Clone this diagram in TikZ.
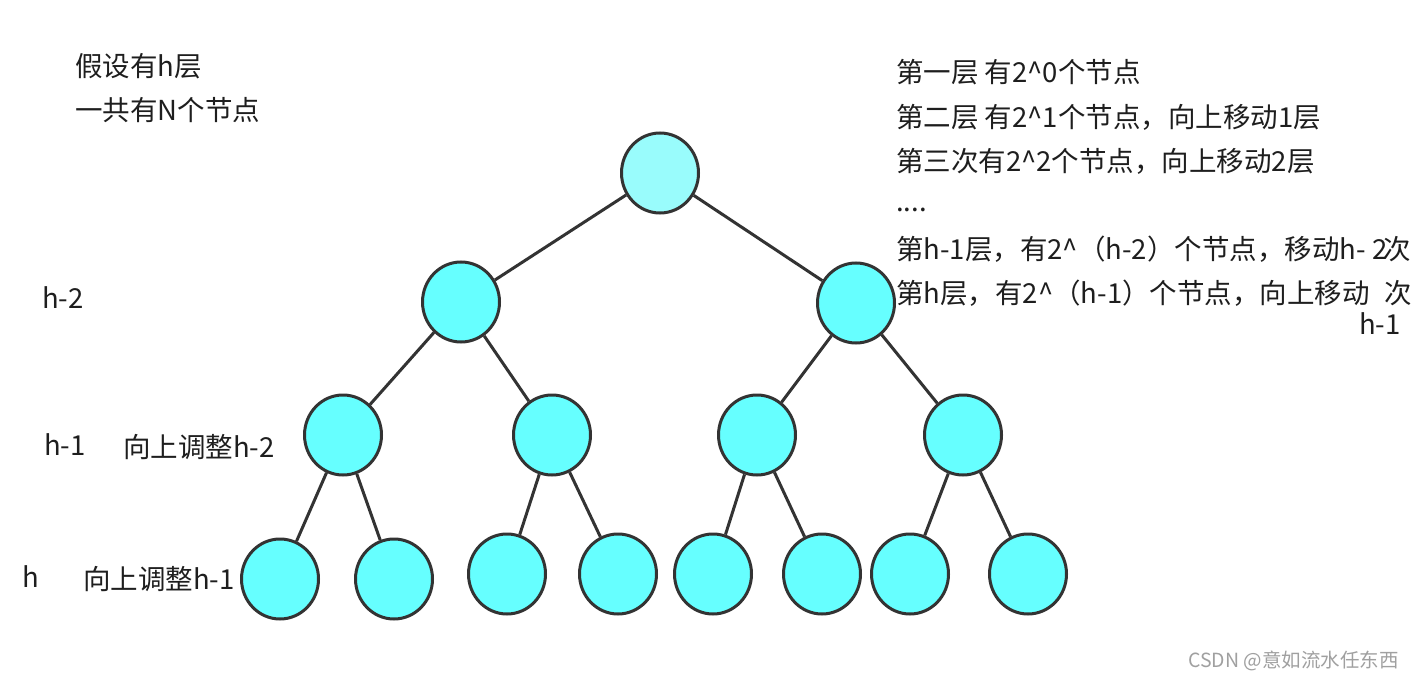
\documentclass[tikz,border=0pt]{standalone}
\usepackage{fontspec}
\setmainfont{Noto Sans CJK SC}
\usetikzlibrary{shapes.geometric}
\definecolor{nodefill}{HTML}{66FFFF}
\definecolor{rootfill}{HTML}{99FCFC}
\definecolor{edgecol}{HTML}{333333}
\definecolor{txtcol}{HTML}{1E1E1E}
\definecolor{wmcol}{HTML}{A0A0A0}
\tikzset{
  treenode/.style={ellipse, draw=edgecol, line width=3pt, fill=nodefill,
    minimum width=77pt, minimum height=80pt, inner sep=0},
  rootnode/.style={treenode, fill=rootfill},
  edge/.style={draw=edgecol, line width=3pt},
  txt/.style={anchor=west, inner sep=0, text=txtcol, font=\fontsize{27.5}{32}\selectfont},
  wm/.style={anchor=west, inner sep=0, text=wmcol, font=\fontsize{19.5}{22}\selectfont}
}
\begin{document}
\begin{tikzpicture}[x=1pt,y=-1pt]
\useasboundingbox (0,0) rectangle (1414,682);
\fill[white] (0,0) rectangle (1414,682);
% nodes
\node[rootnode] (r) at (660,173) {};
\node[treenode] (a) at (461,302) {};
\node[treenode] (b) at (856,303) {};
\node[treenode] (a1) at (343,435) {};
\node[treenode] (a2) at (552,435) {};
\node[treenode] (b1) at (757,435) {};
\node[treenode] (b2) at (963,435) {};
\node[treenode] (l1) at (280,579) {};
\node[treenode] (l2) at (394,579) {};
\node[treenode] (l3) at (507,574) {};
\node[treenode] (l4) at (618,574) {};
\node[treenode] (l5) at (713,574) {};
\node[treenode] (l6) at (822,574) {};
\node[treenode] (l7) at (910,574) {};
\node[treenode] (l8) at (1028,574) {};
% edges
\foreach \p/\c in {r/a, r/b, a/a1, a/a2, b/b1, b/b2, a1/l1, a1/l2, a2/l3, a2/l4, b1/l5, b1/l6, b2/l7, b2/l8}
  \draw[edge] (\p) -- (\c);
% left texts
\node[txt] (t1) at (75,66) {假设有h层};
\node[txt] (t2) at (75,110) {一共有N个节点};
\node[txt] (h2) at (42,298) {h-2};
\node[txt] (h1) at (44,445) {h-1};
\node[txt] (u2) at (123,447) {向上调整h-2};
\node[txt] (h0) at (22,577) {h};
\node[txt] (u1) at (83,579) {向上调整h-1};
% right texts
\node[txt] (s1) at (896,72) {第一层 有2\^{}0个节点};
\node[txt] (s2) at (896,117) {第二层 有2\^{}1个节点，向上移动1层};
\node[txt] (s3) at (896,161) {第三次有2\^{}2个节点，向上移动2层};
\node[txt] (s4) at (896,210) {....};
\node[txt] (s5) at (896,249) {第h-1层，有2\^{}（h-2）个节点，移动h- 2\kern-4pt 次};
\node[txt] (s6) at (896,293) {第h层，有2\^{}（h-1）个节点，向上移动};
\node[txt] (s6b) at (1384,293) {次};
\node[txt] (s6c) at (1359,324) {h-1};
% watermark
\node[wm] (w) at (1188,661) {CSDN @意如流水任东西};
\end{tikzpicture}
\end{document}
